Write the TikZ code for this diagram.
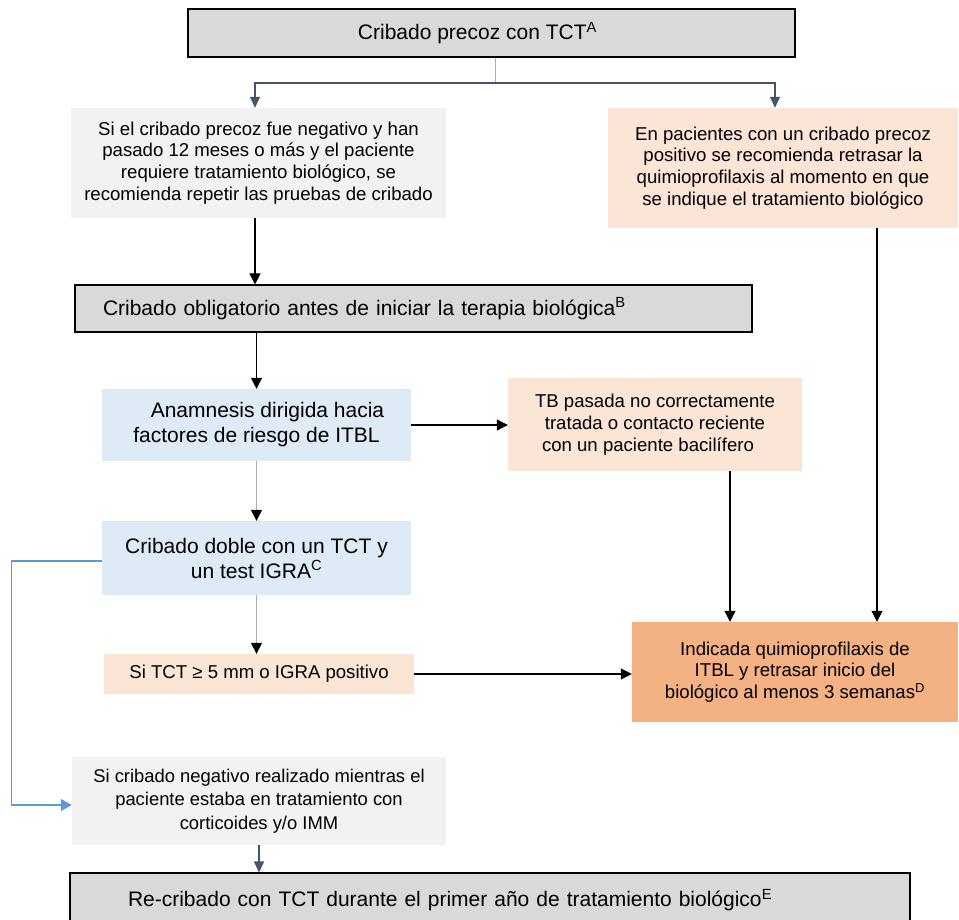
\documentclass[tikz,border=0pt]{standalone}
\usepackage{fontspec}
\setmainfont{Liberation Sans}
\usetikzlibrary{arrows.meta,calc}
\definecolor{boxgray}{HTML}{D9D9D9}
\definecolor{lightgray}{HTML}{F2F2F2}
\definecolor{peach}{HTML}{FBE5D6}
\definecolor{lightblue}{HTML}{DEEBF7}
\definecolor{orangebox}{HTML}{F4B183}
\definecolor{slate}{HTML}{44546A}
\definecolor{bluelink}{HTML}{5B9BD5}
\definecolor{midgray}{HTML}{ABABAB}
\tikzset{
  base/.style={rectangle, inner sep=0pt, align=center, font=\fontsize{18.6}{21.7}\selectfont},
  bigtext/.style={font=\fontsize{21}{25}\selectfont},
  hdr/.style={base, bigtext, fill=boxgray, draw=black, line width=1.1pt},
  greybox/.style={base, fill=lightgray},
  peachbox/.style={base, fill=peach},
  bluebox/.style={base, bigtext, fill=lightblue},
  orbox/.style={base, fill=orangebox},
  arr/.style={-{Triangle[length=11pt,width=11pt]}, line width=1.1pt, black},
  grayarr/.style={-{Triangle[length=11pt,width=11pt,color=black]}, line width=1.3pt, midgray},
  slatearr/.style={-{Triangle[length=11pt,width=10pt]}, line width=1.1pt, slate},
  bluearr/.style={-{Triangle[length=11pt,width=12pt]}, line width=1.1pt, bluelink}
}
\begin{document}
\begin{tikzpicture}[x=1pt,y=-1pt]
\useasboundingbox (0,0) rectangle (959,920);
\clip (0,0) rectangle (959,920);

\node[hdr, minimum width=607pt, minimum height=48pt] (b1) at (491.5,33)
  {Cribado precoz con TCT\textsuperscript{A}\hspace*{28pt}};

\node[greybox, minimum width=375pt, minimum height=110pt] (b2) at (258.5,163)
  {Si el cribado precoz fue negativo y han\\ pasado 12 meses o más y el paciente\\ requiere tratamiento biológico, se\\ recomienda repetir las pruebas de cribado};

\node[peachbox, minimum width=350pt, minimum height=120pt] (b3) at (783,168)
  {En pacientes con un cribado precoz\\ positivo se recomienda retrasar la\\ quimioprofilaxis al momento en que\\ se indique el tratamiento biológico};

\node[hdr, minimum width=677pt, minimum height=47pt, align=left, text width=621pt, inner xsep=28pt] (b4) at (413.5,308.5)
  {Cribado obligatorio antes de iniciar la terapia biológica\textsuperscript{B}};

\node[bluebox, minimum width=309pt, minimum height=72pt] (b5) at (256.5,425)
  {\hspace*{22pt}Anamnesis dirigida hacia\\ factores de riesgo de ITBL};

\node[peachbox, minimum width=294pt, minimum height=93pt] (b6) at (655,424.5)
  {TB pasada no correctamente\\ tratada o contacto reciente\\ con un paciente bacilífero\hspace*{14pt}};

\node[bluebox, minimum width=309pt, minimum height=74pt] (b7) at (256.5,558)
  {Cribado doble con un TCT y\\ un test IGRA\textsuperscript{C}};

\node[peachbox, minimum width=310pt, minimum height=40pt] (b8) at (259,674)
  {Si TCT ≥ 5 mm o IGRA positivo};

\node[orbox, minimum width=326pt, minimum height=100pt] (b10) at (795,672)
  {Indicada quimioprofilaxis de\\ ITBL y retrasar inicio del\\ biológico al menos 3 semanas\textsuperscript{D}};

\node[greybox, minimum width=374pt, minimum height=88pt, font=\fontsize{18.4}{23.5}\selectfont] (b9) at (259,801)
  {Si cribado negativo realizado mientras el\\ paciente estaba en tratamiento con\\ corticoides y/o IMM};

\node[hdr, minimum width=840pt, minimum height=54pt, align=left, text width=724pt, inner xsep=58pt] (b11) at (490,900)
  {Re-cribado con TCT durante el primer año de tratamiento biológico\textsuperscript{E}};

% connectors
\coordinate (split) at (495,83);
\draw[midgray, line width=0.6pt] (b1.south -| split) -- (split);
\draw[slatearr] (split) -| ([xshift=-3.5pt]b2.north);
\draw[slatearr] (split) -| ([xshift=-8pt]b3.north);
\draw[arr] ([xshift=-3.5pt]b2.south) -- ([xshift=-3.5pt]b2.south |- b4.north);
\draw[arr] (b5.north |- b4.south) -- (b5.north);
\draw[arr] (b5.east) -- (b6.west |- b5.east);
\draw[grayarr] (b5.south) -- (b7.north);
\draw[grayarr] (b7.south) -- (b7.south |- b8.north);
\draw[arr] (b8.east) -- (b10.west |- b8.east);
\draw[arr] ([xshift=75pt]b6.south) -- ([xshift=75pt]b6.south |- b10.north);
\draw[arr] ([xshift=94pt]b3.south) -- ([xshift=94pt]b3.south |- b10.north);
\draw[bluearr] ([yshift=-3pt]b7.west) -- ++(-90,0) |- ([yshift=-4pt]b9.west);
\draw[slatearr] (b9.south) -- (b9.south |- b11.north);
\end{tikzpicture}
\end{document}
